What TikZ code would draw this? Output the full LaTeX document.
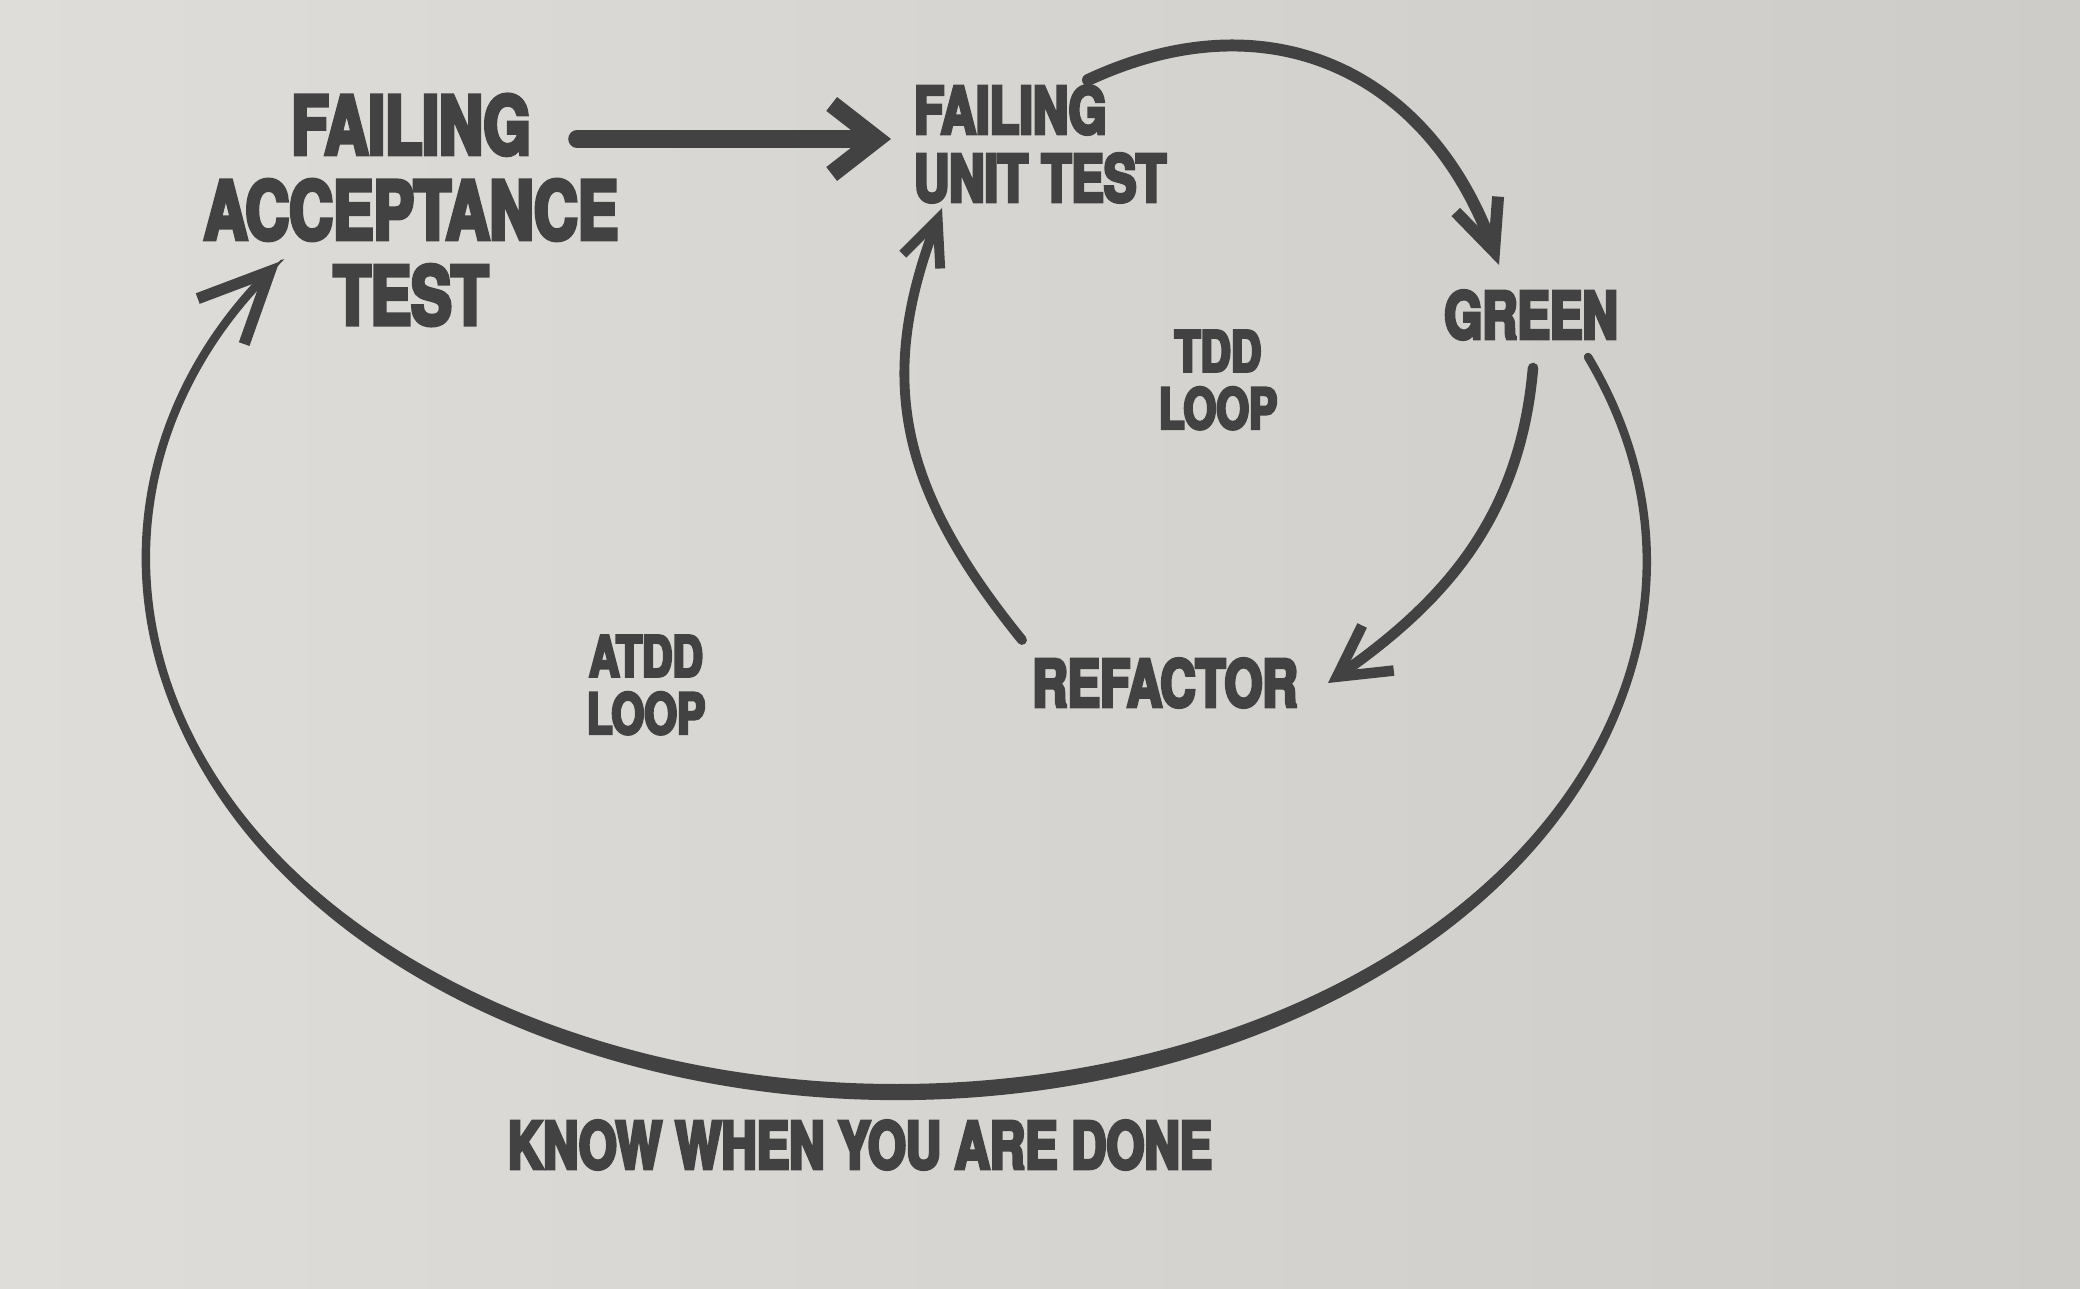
\documentclass[tikz,border=0pt]{standalone}
\usepackage{fontspec}
\usetikzlibrary{arrows.meta}
\newfontfamily\sketchfont{texgyreheros-bold.otf}[FakeStretch=0.75, FakeBold=5]

\definecolor{ink}{RGB}{66,66,66}
\definecolor{paperlight}{RGB}{222,221,217}
\definecolor{paperdark}{RGB}{205,204,200}

\tikzset{
  bigtext/.style={text=ink, inner sep=0pt, align=center, font=\sketchfont\fontsize{23}{24.2}\selectfont},
  midtext/.style={text=ink, inner sep=0pt, font=\sketchfont\fontsize{18.5}{19.3}\selectfont},
  smalltext/.style={text=ink, inner sep=0pt, align=center, font=\sketchfont\fontsize{16}{16.3}\selectfont},
  stroke/.style={draw=ink, line cap=round},
}

\begin{document}
\begin{tikzpicture}[x=0.01cm, y=0.01cm]
  \shade[left color=paperlight, right color=paperdark] (0,0) rectangle (2080,1288);
  \useasboundingbox (0,0) rectangle (2080,1288);

  \node[bigtext] (acc) at (411,1078) {FAILING\\ACCEPTANCE\\TEST};
  \node[midtext, align=left] (unit) at (1040,1144) {FAILING\\UNIT TEST};
  \node[midtext] (green) at (1531,973) {GREEN};
  \node[smalltext] (tdd) at (1218,908) {TDD\\LOOP};
  \node[midtext] (refactor) at (1165,605) {REFACTOR};
  \node[smalltext] (atdd) at (646,603) {ATDD\\LOOP};
  \node[midtext] (done) at (860,143) {KNOW WHEN YOU ARE DONE};

  % acceptance test to unit test
  \draw[stroke, line width=5pt, -{Straight Barb[length=4.5mm, width=7mm]}]
    ([shift={(166,71)}]acc.center) -- ([shift={(-149,5)}]unit.center);

  % inner tdd loop
  \draw[stroke, line width=3.4pt, -{Straight Barb[length=5mm, width=4.5mm]}]
    ([shift={(48,64)}]unit.center) to[out=25, in=110, looseness=1.15] ([shift={(-32,50)}]green.center);
  \draw[stroke, line width=3pt, -{Straight Barb[length=5mm, width=5.5mm]}]
    ([shift={(2,-53)}]green.center) to[out=-95, in=35] ([shift={(163,0)}]refactor.center);
  \draw[stroke, line width=2.8pt, -{Straight Barb[length=4.5mm, width=4mm]}]
    ([shift={(-143,43)}]refactor.center) to[out=129, in=-111, looseness=1.1] ([shift={(-98,-64)}]unit.center);

  % outer atdd loop, thicker towards the bottom
  \fill[ink] (897,722) ++(23:752 and 534) arc[start angle=23, end angle=-215, x radius=752, y radius=534]
    -- (284.3,1028.6) arc[start angle=-215, end angle=23, x radius=748, y radius=524] -- cycle;
  \draw[stroke, line width=2.4pt, -{Straight Barb[length=7mm, width=6.5mm, line width=3.2pt]}]
    ([shift={(57,-42)}]green.center) arc[start angle=22.8, end angle=-214.6, x radius=750, y radius=528];
\end{tikzpicture}
\end{document}
